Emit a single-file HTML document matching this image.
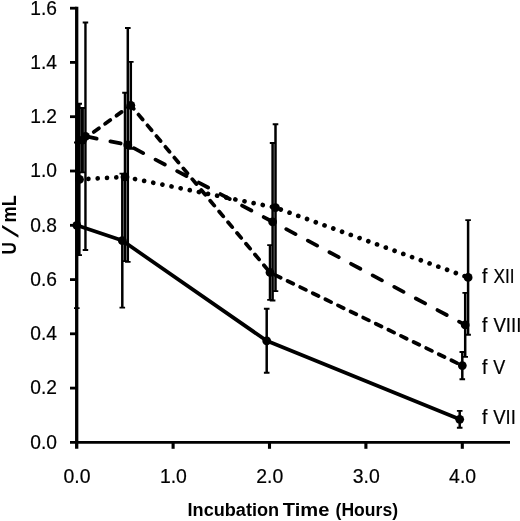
<!DOCTYPE html>
<html lang="en"><head><meta charset="utf-8"><title>Incubation Time chart</title>
<style>html,body{margin:0;padding:0;background:#fff}svg{display:block}</style></head>
<body>
<svg xmlns="http://www.w3.org/2000/svg" width="520" height="521" viewBox="0 0 520 521">
<rect width="520" height="521" fill="#fff"/>
<g stroke="#000" stroke-width="2.8" fill="none" stroke-linecap="butt">
<path d="M76.7 6.7V448.8" stroke-width="3.3"/>
<path d="M70 442.4H510"/>
<path d="M70 388.1H76.7"/>
<path d="M70 333.8H76.7"/>
<path d="M70 279.6H76.7"/>
<path d="M70 225.3H76.7"/>
<path d="M70 171.0H76.7"/>
<path d="M70 116.7H76.7"/>
<path d="M70 62.4H76.7"/>
<path d="M70 8.2H76.7"/>
<path d="M173.1 442.4V448.8" stroke-width="3.1"/>
<path d="M269.5 442.4V448.8" stroke-width="3.1"/>
<path d="M365.9 442.4V448.8" stroke-width="3.1"/>
<path d="M462.3 442.4V448.8" stroke-width="3.1"/>
</g>
<g stroke="#000" stroke-width="2.5" fill="none">
<path d="M74.0 142.5H79.6M74.0 308.1H79.6" stroke-width="1.9"/><path d="M76.80 142.5V308.1" stroke-width="2.5"/>
<path d="M119.5 173.6H125.1M119.5 307.6H125.1" stroke-width="1.9"/><path d="M122.30 173.6V307.6" stroke-width="2.5"/>
<path d="M263.9 308.7H269.5M263.9 372.8H269.5" stroke-width="1.9"/><path d="M266.70 308.7V372.8" stroke-width="2.5"/>
<path d="M456.9 410.9H462.5M456.9 427.7H462.5" stroke-width="1.9"/><path d="M459.70 410.9V427.7" stroke-width="2.5"/>
<path d="M79.4 108.0H85.0M79.4 172.4H85.0" stroke-width="1.9"/><path d="M82.20 108.0V172.4" stroke-width="3.4"/>
<path d="M128.0 61.9H133.6M128.0 148.7H133.6" stroke-width="1.9"/><path d="M130.80 61.9V148.7" stroke-width="2.5"/>
<path d="M267.2 245.1H272.8M267.2 299.9H272.8" stroke-width="1.9"/><path d="M270.00 245.1V299.9" stroke-width="2.5"/>
<path d="M459.5 352.0H465.1M459.5 379.2H465.1" stroke-width="1.9"/><path d="M462.30 352.0V379.2" stroke-width="2.5"/>
<path d="M82.7 22.5H88.2M82.7 250.0H88.2" stroke-width="1.9"/><path d="M85.45 22.5V250.0" stroke-width="2.4"/>
<path d="M125.0 28.0H130.6M125.0 261.9H130.6" stroke-width="1.9"/><path d="M127.80 28.0V261.9" stroke-width="2.5"/>
<path d="M269.8 143.0H275.4M269.8 300.5H275.4" stroke-width="1.9"/><path d="M272.60 143.0V300.5" stroke-width="2.5"/>
<path d="M462.4 292.9H468.0M462.4 356.9H468.0" stroke-width="1.9"/><path d="M465.20 292.9V356.9" stroke-width="2.5"/>
<path d="M76.5 103.7H82.0M76.5 255.1H82.0" stroke-width="1.9"/><path d="M79.25 103.7V255.1" stroke-width="2.7"/>
<path d="M122.2 92.8H127.8M122.2 261.1H127.8" stroke-width="1.9"/><path d="M125.00 92.8V261.1" stroke-width="2.5"/>
<path d="M272.7 124.2H278.3M272.7 291.1H278.3" stroke-width="1.9"/><path d="M275.50 124.2V291.1" stroke-width="2.5"/>
<path d="M465.3 220.1H470.9M465.3 334.7H470.9" stroke-width="1.9"/><path d="M468.10 220.1V334.7" stroke-width="2.5"/>
</g>
<g stroke="#000" fill="none" stroke-linecap="round" stroke-linejoin="round">
<path d="M76.8 225.3 L122.3 240.6 L266.7 340.8 L459.7 419.3" stroke-width="3.7"/>
<g stroke-width="3.8" stroke-dasharray="6.4 7.6">
<path d="M82.4 140.2L130.8 105.3" stroke-dashoffset="0.0"/>
<path d="M130.8 105.3L270.0 272.5" stroke-dashoffset="1.9"/>
<path d="M270.0 272.5L462.3 365.6" stroke-dashoffset="8.5"/>
</g>
<g stroke-width="3.8" stroke-dasharray="10.5 14.0">
<path d="M85.5 136.3L127.8 144.9" stroke-dashoffset="23.6"/>
<path d="M127.8 144.9L272.6 221.8" stroke-dashoffset="17.6"/>
<path d="M272.6 221.8L465.2 324.9" stroke-dashoffset="9.0"/>
</g>
<g stroke-width="4.7" stroke-dasharray="0.01 9.3">
<path d="M79.5 179.4L125.0 177.0" stroke-dashoffset="0.4"/>
<path d="M125.0 177.0L275.5 207.6" stroke-dashoffset="8.4"/>
<path d="M275.5 207.6L468.1 277.4" stroke-dashoffset="3.7"/>
</g>
</g>
<g fill="#000">
<circle cx="76.8" cy="225.3" r="4.4"/>
<circle cx="122.3" cy="240.6" r="4.4"/>
<circle cx="266.7" cy="340.8" r="4.4"/>
<circle cx="459.7" cy="419.3" r="4.4"/>
<circle cx="82.4" cy="140.2" r="4.4"/>
<circle cx="130.8" cy="105.3" r="4.4"/>
<circle cx="270.0" cy="272.5" r="4.4"/>
<circle cx="462.3" cy="365.6" r="4.4"/>
<circle cx="85.5" cy="136.3" r="4.4"/>
<circle cx="127.8" cy="144.9" r="4.4"/>
<circle cx="272.6" cy="221.8" r="4.4"/>
<circle cx="465.2" cy="324.9" r="4.4"/>
<circle cx="79.5" cy="179.4" r="4.4"/>
<circle cx="125.0" cy="177.0" r="4.4"/>
<circle cx="275.5" cy="207.6" r="4.4"/>
<circle cx="468.1" cy="277.4" r="4.4"/>
</g>
<g font-family="'Liberation Sans', sans-serif" font-size="19.8" fill="#000" stroke="#000" stroke-width="0.2">
<text x="57.0" y="448.7" text-anchor="end" textLength="26.7" lengthAdjust="spacingAndGlyphs">0.0</text>
<text x="57.0" y="394.4" text-anchor="end" textLength="26.7" lengthAdjust="spacingAndGlyphs">0.2</text>
<text x="57.0" y="340.1" text-anchor="end" textLength="26.7" lengthAdjust="spacingAndGlyphs">0.4</text>
<text x="57.0" y="285.9" text-anchor="end" textLength="26.7" lengthAdjust="spacingAndGlyphs">0.6</text>
<text x="57.0" y="231.6" text-anchor="end" textLength="26.7" lengthAdjust="spacingAndGlyphs">0.8</text>
<text x="57.0" y="177.3" text-anchor="end" textLength="26.7" lengthAdjust="spacingAndGlyphs">1.0</text>
<text x="57.0" y="123.0" text-anchor="end" textLength="26.7" lengthAdjust="spacingAndGlyphs">1.2</text>
<text x="57.0" y="68.7" text-anchor="end" textLength="26.7" lengthAdjust="spacingAndGlyphs">1.4</text>
<text x="57.0" y="14.5" text-anchor="end" textLength="26.7" lengthAdjust="spacingAndGlyphs">1.6</text>
<text x="77.0" y="482.6" text-anchor="middle" textLength="27.0" lengthAdjust="spacingAndGlyphs">0.0</text>
<text x="173.4" y="482.6" text-anchor="middle" textLength="27.0" lengthAdjust="spacingAndGlyphs">1.0</text>
<text x="269.8" y="482.6" text-anchor="middle" textLength="27.0" lengthAdjust="spacingAndGlyphs">2.0</text>
<text x="366.2" y="482.6" text-anchor="middle" textLength="27.0" lengthAdjust="spacingAndGlyphs">3.0</text>
<text x="462.6" y="482.6" text-anchor="middle" textLength="27.0" lengthAdjust="spacingAndGlyphs">4.0</text>
<text x="482.0" y="283.4" font-size="19.4">f <tspan x="493.6" textLength="21.0" lengthAdjust="spacingAndGlyphs">XII</tspan></text>
<text x="482.0" y="332.0" font-size="19.4">f <tspan x="493.4" textLength="28.0" lengthAdjust="spacingAndGlyphs">VIII</tspan></text>
<text x="482.0" y="374.0" font-size="19.4">f <tspan x="493.3" textLength="12.0" lengthAdjust="spacingAndGlyphs">V</tspan></text>
<text x="482.0" y="424.0" font-size="19.4">f <tspan x="493.3" textLength="22.6" lengthAdjust="spacingAndGlyphs">VII</tspan></text>
</g>
<g font-family="'Liberation Sans', sans-serif" font-weight="bold" font-size="19.1" fill="#000">
<text y="516.1"><tspan x="187.6" textLength="91.5" lengthAdjust="spacingAndGlyphs">Incubation</tspan> <tspan x="282.8" textLength="46.6" lengthAdjust="spacingAndGlyphs">Time</tspan> <tspan x="335.6" textLength="62.4" lengthAdjust="spacingAndGlyphs">(Hours)</tspan></text>
<text transform="translate(15.7 253.2) rotate(-90)" font-size="19.4" x="-1.2" textLength="12.4" lengthAdjust="spacingAndGlyphs">U</text>
<text transform="translate(18.0 237.7) rotate(-90) skewX(-23)" font-size="22">/</text>
<text transform="translate(15.7 253.2) rotate(-90)" font-size="19.4" x="30.6" textLength="27.4" lengthAdjust="spacingAndGlyphs">mL</text>
</g>
</svg>
</body></html>
